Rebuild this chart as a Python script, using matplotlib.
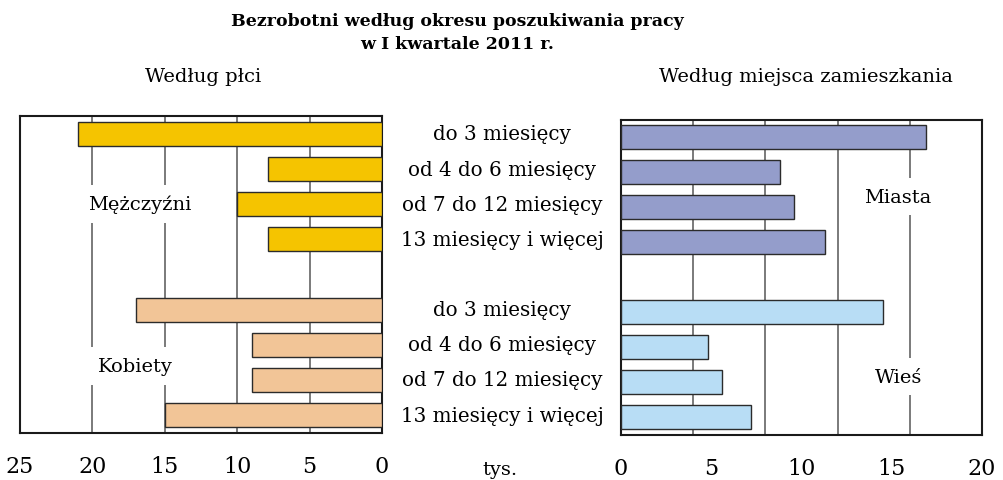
import matplotlib.pyplot as plt
import numpy as np

categories = ['do 3 miesięcy', 'od 4 do 6 miesięcy', 'od 7 do 12 miesięcy', '13 miesięcy i więcej']

men = [21.0, 7.9, 10.0, 7.9]
women = [17.0, 9.0, 9.0, 15.0]
cities = [16.9, 8.8, 9.6, 11.3]
villages = [14.5, 4.8, 5.6, 7.2]

left_ticks = [0, 5, 10, 15, 20, 25]
right_ticks = [0, 5, 10, 15, 20]
right_grid = [4, 8, 12, 16]

plt.rcParams['font.family'] = ['DejaVu Serif']

fig = plt.figure(figsize=(10.04, 4.81), dpi=100)
ax_l = fig.add_axes([20 / 1004, 1 - 434 / 481, 362 / 1004, 317 / 481])
ax_r = fig.add_axes([621 / 1004, 1 - 435.5 / 481, 361 / 1004, 315 / 481])

top_pos = np.arange(4)
bottom_pos = top_pos + 5
bar_h = 0.68
edge = dict(edgecolor='#2b2b2b', linewidth=1.0, zorder=3)

ax_l.barh(top_pos, men, height=bar_h, color='#f5c400', **edge)
ax_l.barh(bottom_pos, women, height=bar_h, color='#f2c597', **edge)
ax_r.barh(top_pos, cities, height=bar_h, color='#949dcb', **edge)
ax_r.barh(bottom_pos, villages, height=bar_h, color='#b8ddf5', **edge)

for ax in (ax_l, ax_r):
    ax.set_ylim(8.51, -0.51)
    ax.set_yticks([])
    ax.tick_params(axis='x', length=0, pad=16, labelsize=16)
    for s in ax.spines.values():
        s.set_linewidth(1.5)
        s.set_color('#1a1a1a')
    ax.set_axisbelow(True)

ax_l.set_xlim(25, 0)
ax_l.set_xticks(left_ticks)
ax_l.grid(axis='x', color='#7a7a7a', linewidth=1.4)

ax_r.set_xlim(0, 20)
ax_r.set_xticks(right_ticks)
ax_r.set_xticks(right_grid, minor=True)
ax_r.tick_params(axis='x', which='minor', length=0)
ax_r.grid(axis='x', which='minor', color='#7a7a7a', linewidth=1.4)

box = dict(facecolor='white', edgecolor='none', pad=7)
ax_l.text(16.7, 2.0, 'Mężczyźni', ha='center', va='center', fontsize=14, bbox=box, zorder=2)
ax_l.text(17.0, 6.6, 'Kobiety', ha='center', va='center', fontsize=14, bbox=box, zorder=2)
ax_r.text(15.3, 1.7, 'Miasta', ha='center', va='center', fontsize=14, bbox=box, zorder=2)
ax_r.text(15.4, 6.85, 'Wieś', ha='center', va='center', fontsize=14, bbox=box, zorder=2)

# category names between the two panels
for pos in (top_pos, bottom_pos):
    for p, name in zip(pos, categories):
        y = ax_l.transData.transform((0, p))[1]
        fig.text(502 / 1004, fig.transFigure.inverted().transform((0, y))[1], name,
                 ha='center', va='center', fontsize=14.3)

fig.text(457 / 1004, 1 - 21 / 481, 'Bezrobotni według okresu poszukiwania pracy',
         ha='center', va='center', fontsize=12.5, fontweight='heavy')
fig.text(457 / 1004, 1 - 45 / 481, 'w I kwartale 2011 r.',
         ha='center', va='center', fontsize=12.5, fontweight='heavy')
fig.text(203 / 1004, 1 - 77 / 481, 'Według płci', ha='center', va='center', fontsize=14)
fig.text(806 / 1004, 1 - 77 / 481, 'Według miejsca zamieszkania', ha='center', va='center', fontsize=14)
fig.text(500 / 1004, 1 - 470 / 481, 'tys.', ha='center', va='center', fontsize=14)

fig.savefig('out.png', dpi=100)
